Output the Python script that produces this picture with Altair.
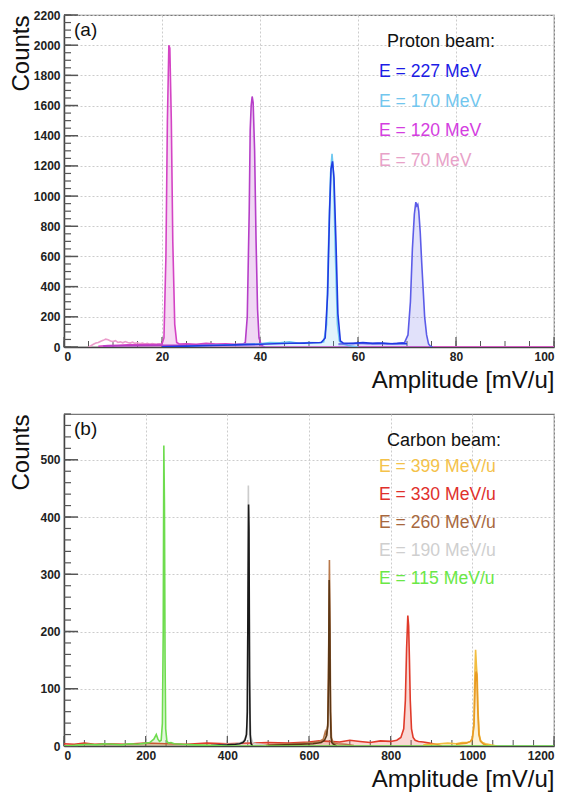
import altair as alt
import pandas as pd

# ---------------- Proton beam panel (a) ----------------
p70_x = [5.0, 5.5, 6.0, 6.5, 7.0, 7.5, 8.0, 8.5, 9.0, 9.5, 10.0, 10.5, 11.0, 11.5, 12.0, 12.5, 13.0, 13.5,
         14.0, 14.5, 15.0, 15.5, 16.0, 16.5, 17.0, 17.5, 18.0, 18.5, 19.0, 19.5, 20.0, 20.5, 100.0]
p70_y = [0, 8, 18, 26, 30, 38, 44, 52, 48, 40, 36, 42, 30, 34, 28, 36, 30, 26,
         32, 24, 28, 22, 26, 20, 24, 18, 22, 20, 18, 20, 16, 0, 0]

p120_x = [7, 9, 11, 13, 15, 17, 19, 20, 20.4, 20.8, 21.1, 21.4, 21.6, 21.9, 22.2, 22.6, 23, 23.5,
          25, 27, 29, 31, 33, 35, 37, 39, 40, 40.5, 100]
p120_y = [5, 10, 12, 14, 15, 16, 18, 20, 60, 600, 1500, 2000, 1980, 1500, 700, 150, 30, 20,
          22, 18, 24, 20, 22, 18, 22, 20, 18, 0, 0]

pmid_x = [8, 12, 16, 20, 24, 28, 32, 35, 36.5, 37.0, 37.4, 37.8, 38.0, 38.2, 38.4, 38.6, 38.9,
          39.2, 39.5, 39.8, 40.2, 40.6, 41]
pmid_y = [6, 8, 10, 12, 12, 14, 15, 15, 18, 30, 200, 900, 1440, 1600, 1660, 1620, 1300,
          700, 250, 60, 20, 5, 0]

p170_x = [25, 28, 31, 34, 37, 40, 42, 44, 46, 48, 50, 52, 53, 53.6, 54.0, 54.4, 54.7, 55.0, 55.4,
          55.8, 56.2, 56.6, 57, 58, 60]
p170_y = [5, 10, 12, 15, 18, 22, 30, 28, 35, 25, 30, 28, 35, 150, 700, 1150, 1280, 1150, 600,
          150, 40, 25, 20, 10, 0]

p227_x = [20, 25, 30, 35, 40, 43, 46, 49, 51, 52.5, 53.3, 53.8, 54.2, 54.5, 54.8, 55.1, 55.5, 55.9,
          56.4, 57, 59, 61, 63, 65, 67, 69, 70]
p227_y = [2, 6, 10, 14, 18, 22, 25, 26, 28, 30, 60, 350, 900, 1180, 1230, 1120, 700, 220,
          40, 26, 24, 30, 24, 26, 22, 24, 22]

plav_x = [56, 58, 60, 62, 64, 66, 68, 69.5, 70.2, 70.7, 71.1, 71.5, 71.8, 72.0, 72.2, 72.4, 72.7,
          73.0, 73.3, 73.6, 74.0, 74.4, 74.8, 75.2]
plav_y = [20, 22, 25, 22, 24, 20, 24, 30, 80, 300, 650, 880, 960, 935, 945, 900, 760,
          560, 380, 200, 80, 20, 5, 0]

proton_series = [("p70", p70_x, p70_y), ("p120", p120_x, p120_y), ("pmid", pmid_x, pmid_y),
                 ("p170", p170_x, p170_y), ("plav", plav_x, plav_y), ("p227", p227_x, p227_y)]
proton_line = {"p70": "#eb9ccb", "p120": "#d444c4", "pmid": "#b63ec8", "p170": "#6ec8f0",
               "plav": "#5c5ce8", "p227": "#1f3ae2"}
proton_fill = {"p70": None, "p120": "#d444c4", "pmid": "#b63ec8", "p170": "#6ec8f0",
               "plav": "#6a6ae8", "p227": None}

proton_legend = ["E = 227 MeV", "E = 170 MeV", "E = 120 MeV", "E = 70 MeV"]
proton_legend_colors = ["#1c1ce6", "#72c6ee", "#d43ee0", "#e8a2c8"]

# ---------------- Carbon beam panel (b) ----------------
c115_x = [0, 20, 40, 60, 80, 100, 120, 140, 160, 180, 200, 210, 220, 226, 230, 234, 238, 241, 243,
          244.5, 246, 247.5, 249, 252, 256, 262, 270, 290, 320, 400, 600, 800, 1000, 1200]
c115_y = [0, 1, 2, 3, 2, 4, 3, 2, 4, 3, 5, 6, 12, 20, 12, 8, 10, 40, 200,
          525, 420, 150, 30, 8, 5, 6, 4, 3, 2, 0, 0, 0, 0, 0]

c190_x = [360, 380, 400, 420, 430, 438, 443, 446, 448, 450, 451.5, 453, 455, 458, 462, 470, 480, 495]
c190_y = [1, 2, 3, 3, 5, 8, 12, 20, 40, 200, 455, 300, 60, 15, 6, 4, 3, 1]

cblk_x = [360, 380, 400, 420, 430, 438, 443, 447, 449, 450.5, 452, 453, 454.5, 456, 458, 462]
cblk_y = [1, 1.5, 2, 3, 4, 6, 10, 20, 60, 250, 422, 380, 120, 20, 4, 0]

c260_x = [480, 520, 560, 590, 610, 625, 635, 640, 643, 646, 648, 650, 651.5, 653, 655, 658, 662, 670,
          690, 710]
c260_y = [1, 3, 4, 5, 6, 8, 12, 25, 18, 40, 150, 325, 200, 60, 15, 8, 5, 4, 3, 1]

cbrn_x = [500, 540, 580, 610, 630, 638, 643, 646, 648, 649.5, 651, 652.5, 654, 656, 660, 668]
cbrn_y = [1, 2, 3, 4, 6, 10, 18, 35, 120, 290, 200, 60, 15, 6, 3, 0]

c330_x = [0, 25, 50, 75, 100, 150, 200, 250, 300, 350, 400, 450, 500, 550, 600, 625, 650, 675, 700,
          725, 750, 775, 800, 815, 825, 832, 836, 839, 842, 844, 846, 848, 851, 855, 860, 868, 880,
          895, 910, 925]
c330_y = [4, 3, 5, 3, 4, 3, 5, 4, 3, 5, 4, 5, 6, 5, 7, 9, 8, 7, 10,
          8, 6, 9, 8, 10, 15, 30, 80, 170, 228, 210, 150, 80, 30, 15, 10, 8, 7,
          5, 3, 0]

c399_x = [880, 900, 920, 940, 960, 975, 988, 996, 1000, 1004, 1006, 1008, 1010, 1012, 1014, 1017,
          1020, 1025, 1032, 1045, 1060]
c399_y = [2, 3, 4, 5, 4, 6, 6, 8, 14, 40, 120, 168, 140, 120, 60, 20,
          10, 6, 4, 2, 0]

corg_x = [960, 985, 995, 1000, 1004, 1007, 1009, 1011, 1013, 1016, 1020, 1028, 1040]
corg_y = [3, 5, 8, 12, 35, 110, 130, 125, 70, 20, 8, 3, 0]

carbon_series = [("c330", c330_x, c330_y), ("c399", c399_x, c399_y), ("corg", corg_x, corg_y),
                 ("c260", c260_x, c260_y), ("cbrn", cbrn_x, cbrn_y), ("c190", c190_x, c190_y),
                 ("cblk", cblk_x, cblk_y), ("c115", c115_x, c115_y)]
carbon_line = {"c330": "#e03a2a", "c399": "#f2bd40", "corg": "#e89a24", "c260": "#b8784a",
               "cbrn": "#5a3614", "c190": "#cccccc", "cblk": "#1a1a1a", "c115": "#6edc4e"}
carbon_fill = {"c330": "#e03a2a", "c399": "#f2bd40", "corg": None, "c260": "#b8784a",
               "cbrn": None, "c190": "#cccccc", "cblk": None, "c115": "#6edc4e"}

carbon_legend = ["E = 399 MeV/u", "E = 330 MeV/u", "E = 260 MeV/u", "E = 190 MeV/u", "E = 115 MeV/u"]
carbon_legend_colors = ["#f4c24a", "#e0302c", "#a8683e", "#cfcfcf", "#6ae846"]

W, H = 490, 332
FONT = "Liberation Sans"


def panel(series, line_c, fill_c, xmax, ymax, xmaj, ymaj, xmin_step, ymin_step,
          tag, leg_title, leg_labels, leg_colors, leg_y0, leg_step):
    xs = alt.Scale(domain=[0, xmax], nice=False, zero=False)
    ys = alt.Scale(domain=[0, ymax], nice=False)
    xticks = list(range(0, xmax + 1, xmaj))
    yticks = list(range(0, ymax + 1, ymaj))
    xax = alt.Axis(values=xticks, title="Amplitude [mV/u]", titleAnchor="end", labelPadding=4,
                   titlePadding=6, grid=True, ticks=False, format="d")
    yax = alt.Axis(values=yticks, title="Counts", titleAnchor="end", titleX=-31, labelPadding=4,
                   grid=True, ticks=False, format="d")

    def X(f):
        return alt.X(f, type="quantitative", scale=xs, axis=xax)

    def Y(f):
        return alt.Y(f, type="quantitative", scale=ys, axis=yax)

    layers = []
    # inward ticks
    xmaj_df = pd.DataFrame({"v": xticks})
    xmin_df = pd.DataFrame({"v": list(range(0, xmax + 1, xmin_step))})
    ymaj_df = pd.DataFrame({"v": yticks})
    ymin_df = pd.DataFrame({"v": list(range(0, ymax + 1, ymin_step))})
    tick_col = "#555555"
    layers.append(alt.Chart(ymaj_df).mark_rule(color=tick_col, strokeWidth=1.5).encode(
        y=Y("v"), x=alt.value(0), x2=alt.value(14)))
    layers.append(alt.Chart(ymin_df).mark_rule(color=tick_col, strokeWidth=1.2).encode(
        y=Y("v"), x=alt.value(0), x2=alt.value(7)))
    layers.append(alt.Chart(xmaj_df).mark_rule(color=tick_col, strokeWidth=1.2).encode(
        x=X("v"), y=alt.value(H), y2=alt.value(H - 10)))
    layers.append(alt.Chart(xmin_df).mark_rule(color=tick_col, strokeWidth=1.0).encode(
        x=X("v"), y=alt.value(H), y2=alt.value(H - 6)))

    for name, xv, yv in series:
        df = pd.DataFrame({"x": xv, "y": yv})
        if fill_c[name]:
            layers.append(alt.Chart(df).mark_area(color=fill_c[name], opacity=0.2, clip=True).encode(
                x=X("x"), y=Y("y")))
        layers.append(alt.Chart(df).mark_line(color=line_c[name], strokeWidth=1.6, clip=True).encode(
            x=X("x"), y=Y("y")))

    # panel tag
    layers.append(alt.Chart(pd.DataFrame({"t": [tag]})).mark_text(
        x=10, y=15, align="left", baseline="middle", fontSize=19, font=FONT, color="#111").encode(
        text="t:N"))
    # legend title
    layers.append(alt.Chart(pd.DataFrame({"t": [leg_title]})).mark_text(
        x=323, y=27, align="left", baseline="middle", fontSize=18, font=FONT, color="#111").encode(
        text="t:N"))
    for i, (lab, col) in enumerate(zip(leg_labels, leg_colors)):
        layers.append(alt.Chart(pd.DataFrame({"t": [lab]})).mark_text(
            x=315, y=leg_y0 + i * leg_step, align="left", baseline="middle", fontSize=17.6,
            font=FONT, color=col).encode(text="t:N"))

    return alt.layer(*layers).properties(width=W, height=H)


top = panel(proton_series, proton_line, proton_fill, 100, 2200, 20, 200, 5, 50,
            "(a)", "Proton beam:", proton_legend, proton_legend_colors, 57, 29.5)
bottom = panel(carbon_series, carbon_line, carbon_fill, 1200, 580, 200, 100, 50, 20,
               "(b)", "Carbon beam:", carbon_legend, carbon_legend_colors, 53, 28)

chart = alt.vconcat(top, bottom, spacing=19).properties(
    padding={"left": 0, "top": 0, "right": 0, "bottom": 0}
).configure_view(stroke="#777777", strokeWidth=1.2).configure_axis(
    labelFont=FONT, labelFontSize=12, labelColor="#222222", labelFontWeight="bold",
    titleFont=FONT, titleFontSize=24, titleFontWeight="normal", titleColor="#111111",
    domainColor="#444444", domainWidth=1.5, gridDash=[2, 2], gridColor="#cccccc", gridWidth=1
)

chart.save("out.html", embed_options={"renderer": "svg", "actions": False})
